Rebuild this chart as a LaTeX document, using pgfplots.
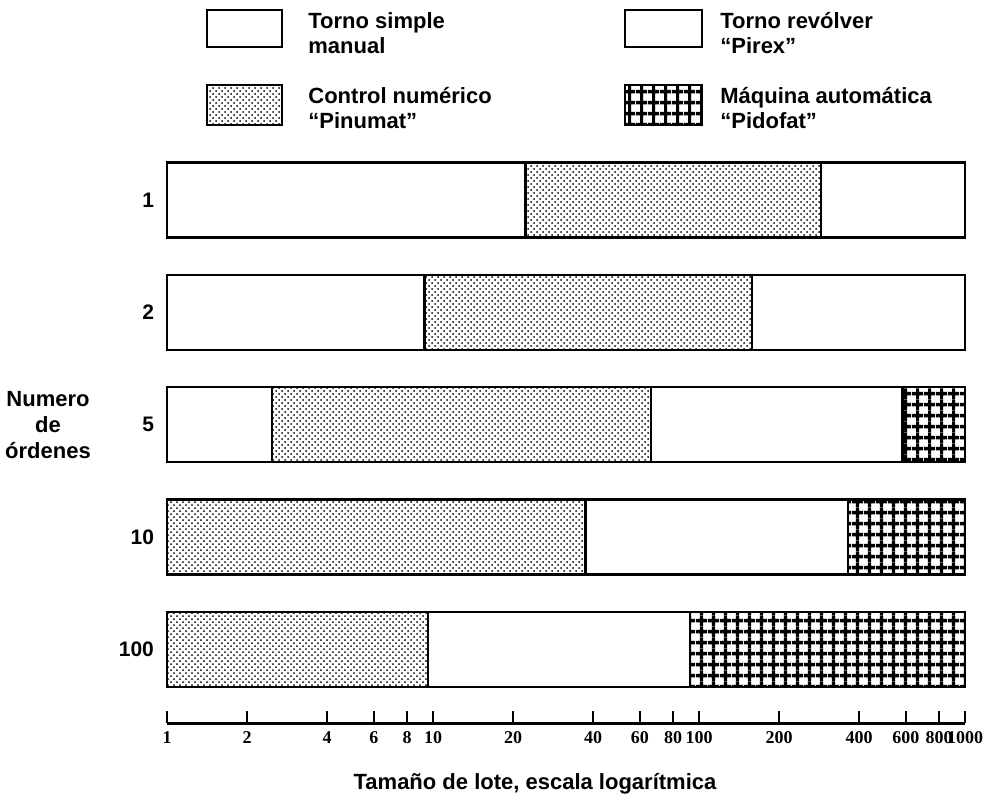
\documentclass[border=0pt]{standalone}
\usepackage{pgfplots}
\pgfplotsset{compat=1.18}
\usepackage{fontspec}
\setmainfont{Liberation Sans}
\newfontfamily\tickfont{Liberation Serif}
\usetikzlibrary{patterns,patterns.meta}

\tikzdeclarepattern{
  name=checkgrid,
  type=uncolored,
  bounding box={(0pt,0pt) and (6pt,5.4pt)},
  tile size={(6pt,5.4pt)},
  code={
    \draw[line width=1.7pt] (0pt,2.7pt) -- (6pt,2.7pt) (3pt,0pt) -- (3pt,5.4pt);
  }
}

\pgfplotsset{
  seg/.style={draw=black, line width=1.2pt, line join=miter},
  manual/.style={seg, fill=white},
  pinumat/.style={seg, pattern=crosshatch dots, pattern color=black},
  pirex/.style={seg, fill=white},
  pidofat/.style={seg, pattern=checkgrid, pattern color=black},
}

\begin{document}
\begin{tikzpicture}
\path[use as bounding box] (0pt,0pt) rectangle (494pt,-399.5pt);
\begin{axis}[
  at={(83.5pt,-361.5pt)}, anchor=south west,
  scale only axis, width=399pt, height=286.8pt,
  xmode=log, xmin=1, xmax=1000, ymin=-0.654, ymax=4.45,
  axis x line*=bottom, axis y line*=left,
  x axis line style={-, line width=1.5pt},
  y axis line style={draw=none},
  xtick={1,2,4,6,8,10,20,40,60,80,100,200,400,600,800,1000},
  xticklabels={1,2,4,6,8,10,20,40,60,80,100,200,400,600,800,1000},
  xminorticks=false,
  tick align=inside,
  major tick length=6pt,
  xtick style={line width=1pt, black},
  ytick={0,1,2,3,4}, yticklabels={100,10,5,2,1},
  ytick style={draw=none},
  xticklabel style={font=\tickfont\bfseries\fontsize{9}{9}\selectfont, text height=6pt, text depth=0pt, yshift=-0.5pt},
  yticklabel style={font=\bfseries\fontsize{10.5}{10.5}\selectfont, xshift=-3pt},
  clip=false,
]
% Row 1 (y=4)
\addplot[manual]  coordinates {(1,3.666) (22.3,3.666) (22.3,4.334) (1,4.334)} -- cycle;
\addplot[pinumat] coordinates {(22.3,3.666) (288,3.666) (288,4.334) (22.3,4.334)} -- cycle;
\addplot[pirex]   coordinates {(288,3.666) (1000,3.666) (1000,4.334) (288,4.334)} -- cycle;
% Row 2 (y=3)
\addplot[manual]  coordinates {(1,2.666) (9.3,2.666) (9.3,3.334) (1,3.334)} -- cycle;
\addplot[pinumat] coordinates {(9.3,2.666) (158,2.666) (158,3.334) (9.3,3.334)} -- cycle;
\addplot[pirex]   coordinates {(158,2.666) (1000,2.666) (1000,3.334) (158,3.334)} -- cycle;
% Row 5 (y=2)
\addplot[manual]  coordinates {(1,1.666) (2.48,1.666) (2.48,2.334) (1,2.334)} -- cycle;
\addplot[pinumat] coordinates {(2.48,1.666) (66,1.666) (66,2.334) (2.48,2.334)} -- cycle;
\addplot[pirex]   coordinates {(66,1.666) (583,1.666) (583,2.334) (66,2.334)} -- cycle;
\addplot[pidofat] coordinates {(583,1.666) (1000,1.666) (1000,2.334) (583,2.334)} -- cycle;
% Row 10 (y=1)
\addplot[pinumat] coordinates {(1,0.666) (37.5,0.666) (37.5,1.334) (1,1.334)} -- cycle;
\addplot[pirex]   coordinates {(37.5,0.666) (363,0.666) (363,1.334) (37.5,1.334)} -- cycle;
\addplot[pidofat] coordinates {(363,0.666) (1000,0.666) (1000,1.334) (363,1.334)} -- cycle;
% Row 100 (y=0)
\addplot[pinumat] coordinates {(1,-0.334) (9.6,-0.334) (9.6,0.334) (1,0.334)} -- cycle;
\addplot[pirex]   coordinates {(9.6,-0.334) (92.5,-0.334) (92.5,0.334) (9.6,0.334)} -- cycle;
\addplot[pidofat] coordinates {(92.5,-0.334) (1000,-0.334) (1000,0.334) (92.5,0.334)} -- cycle;
\end{axis}

% Legend
\draw[line width=1.2pt, fill=white] (103.5pt,-5pt) rectangle (141pt,-23.5pt);
\draw[line width=1.2pt, pattern=crosshatch dots, pattern color=black] (103.5pt,-42.5pt) rectangle (141pt,-62.5pt);
\draw[line width=1.2pt, fill=white] (312.5pt,-5pt) rectangle (351pt,-23.5pt);
\draw[line width=1.2pt, pattern=checkgrid, pattern color=black] (312.5pt,-42.5pt) rectangle (351pt,-62.5pt);

\begin{scope}[every node/.style={anchor=base west, inner sep=0pt, font=\bfseries\fontsize{11}{13}\selectfont}]
\node at (154pt,-14pt) {Torno simple};
\node at (154pt,-26.5pt) {manual};
\node at (154pt,-51.5pt) {Control numérico};
\node at (154pt,-64pt) {``Pinumat''};
\node at (360pt,-14pt) {Torno revólver};
\node at (360pt,-26.5pt) {``Pirex''};
\node at (360pt,-51.5pt) {Máquina automática};
\node at (360pt,-64pt) {``Pidofat''};
\end{scope}

\begin{scope}[every node/.style={anchor=base, inner sep=0pt, font=\bfseries\fontsize{11}{13}\selectfont}]
\node at (24pt,-203pt) {Numero};
\node at (24pt,-216pt) {de};
\node at (24pt,-229pt) {órdenes};
\end{scope}

\node[font=\bfseries\fontsize{11}{13}\selectfont, inner sep=0pt] at (267.5pt,-392pt) {Tamaño de lote, escala logarítmica};
\end{tikzpicture}
\end{document}
